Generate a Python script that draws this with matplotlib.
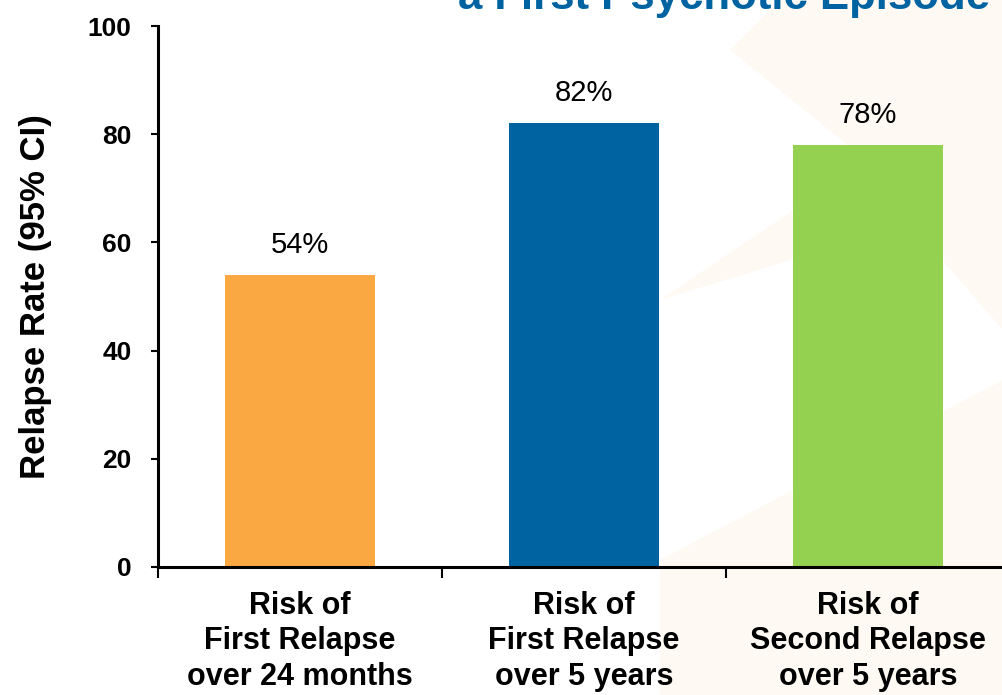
import matplotlib.pyplot as plt
from matplotlib.patches import Polygon

categories = ["Risk of\nFirst Relapse\nover 24 months",
              "Risk of\nFirst Relapse\nover 5 years",
              "Risk of\nSecond Relapse\nover 5 years"]
values = [54, 82, 78]
value_labels = ["54%", "82%", "78%"]
bar_colors = ["#FAA841", "#0063A1", "#95D150"]
y_ticks = [0, 20, 40, 60, 80, 100]

plt.rcParams['font.family'] = ['Liberation Sans', 'DejaVu Sans']

W, H = 1003, 695
fig = plt.figure(figsize=(W / 100, H / 100), dpi=100)

# faint watermark shapes from the slide background (pixel coords)
wm = "#FFF9F3"
shapes = [
    [(730, 50), (780, 0), (1003, 0), (1003, 270)],
    [(660, 300), (1003, 195), (1003, 330), (860, 165)],
    [(660, 560), (1003, 380), (1003, 695), (660, 695)],
]
for pts in shapes:
    fig.patches.append(Polygon([(x / W, 1 - y / H) for x, y in pts], closed=True,
                               transform=fig.transFigure, facecolor=wm,
                               edgecolor="none", zorder=-1))

ax = fig.add_axes([158 / W, 1 - 567 / H, 852 / W, 541 / H])
ax.patch.set_alpha(0)

x = range(len(values))
ax.bar(x, values, width=0.53, color=bar_colors, zorder=2)
for xi, v, lab in zip(x, values, value_labels):
    ax.annotate(lab, (xi, v), xytext=(0, 16), textcoords="offset points",
                ha="center", va="baseline", fontsize=21)

ax.set_xlim(-0.5, 2.5)
ax.set_ylim(0, 100)
ax.set_yticks(y_ticks)
ax.set_yticklabels([str(t) for t in y_ticks], fontsize=19, fontweight="bold")
ax.set_xticks(list(x))
ax.set_xticklabels(categories, fontsize=22, fontweight="bold", linespacing=1.25)
ax.set_xticks([-0.5, 0.5, 1.5, 2.5], minor=True)
ax.tick_params(axis="x", which="major", length=0, pad=17)
ax.tick_params(axis="x", which="minor", length=8, width=1.5, direction="out")
ax.tick_params(axis="y", length=5, width=1.5, direction="out", pad=14)

for side in ["top", "right"]:
    ax.spines[side].set_visible(False)
for side in ["left", "bottom"]:
    ax.spines[side].set_linewidth(2.2)

ax.set_ylabel("Relapse Rate (95% CI)", fontsize=25, fontweight="bold", labelpad=26)

fig.text(990 / W, 1 - 9 / H, "a First Psychotic Episode", ha="right", va="baseline",
         fontsize=31.5, fontweight="bold", color="#0063A1")

plt.savefig("out.png", dpi=100)
